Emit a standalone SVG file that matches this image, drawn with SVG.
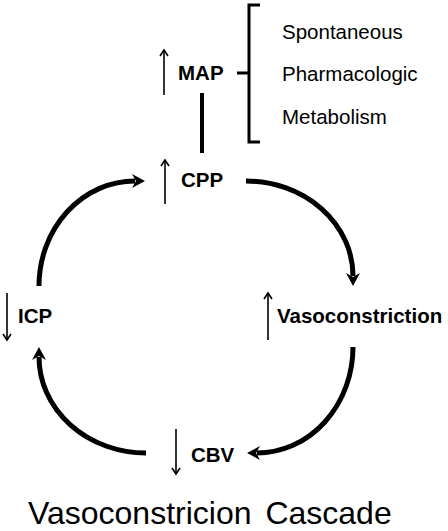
<svg xmlns="http://www.w3.org/2000/svg" width="448" height="531" viewBox="0 0 448 531">
<style>
.b{font-family:"Liberation Sans",Arial,sans-serif;font-weight:bold;font-size:20.5px;fill:#000}
.r{font-family:"Liberation Sans",Arial,sans-serif;font-size:20.5px;fill:#000}
.t{font-family:"Liberation Sans",Arial,sans-serif;font-size:32px;fill:#000;word-spacing:5px}
.arc{fill:none;stroke:#000;stroke-width:5;marker-end:url(#ah)}
.sm{fill:none;stroke:#000;stroke-width:1.6}
.thick{fill:none;stroke:#000;stroke-width:4}
.brace{fill:none;stroke:#000;stroke-width:3}
</style>
<defs>
<marker id="ah" markerUnits="userSpaceOnUse" viewBox="-10 -10 20 20" markerWidth="20" markerHeight="20" refX="0" refY="0" orient="auto">
<path d="M10,0 L-3,-7 L1,0 L-3,7 Z" fill="#000"/>
</marker>
</defs>
<rect width="448" height="531" fill="#fff"/>
<g id="connectors">
<path class="arc" d="M39,286 A96,105 0 0 1 135,181"/>
<path class="arc" d="M246,181 A107,95 0 0 1 353,276"/>
<path class="arc" d="M353,347 A96,106 0 0 1 257,453"/>
<path class="arc" d="M146,453 A107,96 0 0 1 39,357"/>
<line class="thick" x1="202" y1="93" x2="202" y2="153"/>
</g>
<g id="MAP">
<line class="sm" x1="164" y1="51" x2="164" y2="95"/>
<polyline class="sm" points="160,56 164,50 168,56"/>
<text class="b" x="178" y="80">MAP</text>
</g>
<g id="brace">
<path class="brace" d="M260,5 L249,5 L249,142 L260,142 M237,73 L249,73"/>
</g>
<g id="causes">
<text class="r" x="282" y="39">Spontaneous</text>
<text class="r" x="282" y="81">Pharmacologic</text>
<text class="r" x="282" y="124">Metabolism</text>
</g>
<g id="CPP">
<line class="sm" x1="165" y1="161" x2="165" y2="204"/>
<polyline class="sm" points="161,166 165,160 169,166"/>
<text class="b" x="181" y="187">CPP</text>
</g>
<g id="ICP">
<line class="sm" x1="7" y1="293" x2="7" y2="339"/>
<polyline class="sm" points="3,334 7,340 11,334"/>
<text class="b" x="18" y="323">ICP</text>
</g>
<g id="Vasoconstriction">
<line class="sm" x1="268" y1="294" x2="268" y2="340"/>
<polyline class="sm" points="264,299 268,293 272,299"/>
<text class="b" x="277" y="323">Vasoconstriction</text>
</g>
<g id="CBV">
<line class="sm" x1="176" y1="429" x2="176" y2="473"/>
<polyline class="sm" points="172,468 176,474 180,468"/>
<text class="b" x="191" y="462">CBV</text>
</g>
<g id="title">
<text class="t" x="28" y="524">Vasoconstricion Cascade</text>
</g>
</svg>
